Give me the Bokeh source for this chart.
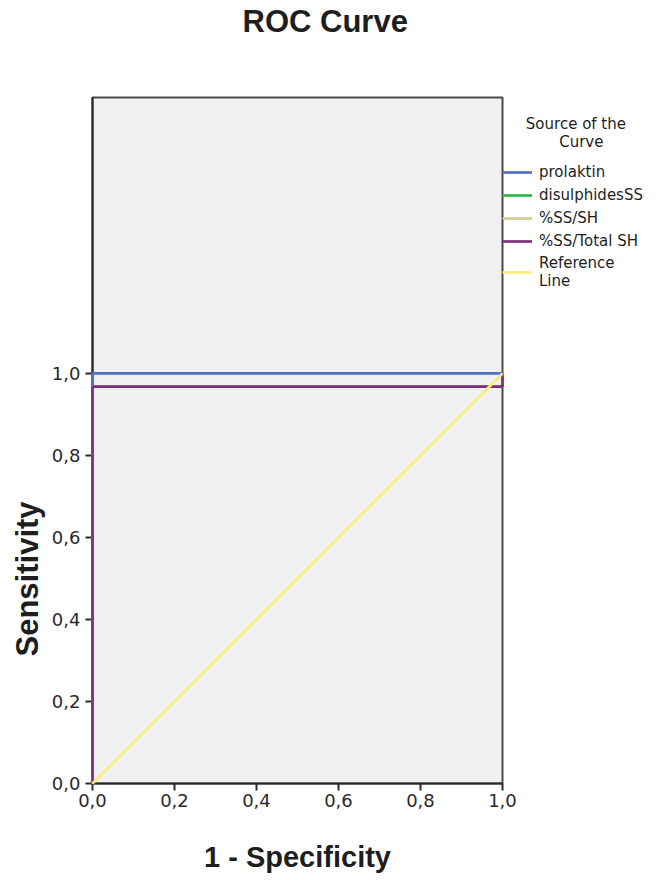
from bokeh.plotting import figure
from bokeh.models import Range1d, Legend, LegendItem, FixedTicker, Title
from bokeh.embed import file_html
from bokeh.resources import INLINE

# Data (ROC curves)
prolaktin_fpr = [0.0, 0.0, 1.0]
prolaktin_tpr = [0.0, 1.0, 1.0]
disulph_fpr = [0.0, 0.0, 1.0, 1.0]
disulph_tpr = [0.0, 0.968, 0.968, 1.0]
ss_sh_fpr = [0.0, 0.0, 1.0, 1.0]
ss_sh_tpr = [0.0, 0.968, 0.968, 1.0]
ss_tot_fpr = [0.0, 0.0, 1.0, 1.0]
ss_tot_tpr = [0.0, 0.968, 0.968, 1.0]
ref_x = [0.0, 1.0]
ref_y = [0.0, 1.0]
ticks = [0.0, 0.2, 0.4, 0.6, 0.8, 1.0]
tick_labels = ["0,0", "0,2", "0,4", "0,6", "0,8", "1,0"]

BOLD = "Liberation Sans"
REG = "DejaVu Sans"
INK = "#1e1e1e"
NB = "\u00a0"

p = figure(frame_width=410, frame_height=686, output_backend="svg", toolbar_location=None,
           x_range=Range1d(0, 1), y_range=Range1d(0, 1.673),
           min_border_left=92, min_border_right=159, min_border_top=97, min_border_bottom=97)
p.xgrid.visible = False
p.ygrid.visible = False
p.background_fill_color = "#F0F0F0"
p.border_fill_color = "white"
p.outline_line_color = "#4a4a4a"
p.outline_line_width = 2

p.title.text = "ROC Curve"
p.title.align = "left"
p.title.vertical_align = "top"
p.title.offset = 150
p.title.standoff = 6
p.title.text_font = BOLD
p.title.text_font_size = "31px"
p.title.text_font_style = "bold"
p.title.text_color = INK

# empty spacer between the frame and the title
spacer = Title(text=NB, text_font_size="2px", standoff=50, text_color="white")
p.add_layout(spacer, "above")

for ax in (p.xaxis[0], p.yaxis[0]):
    ax.ticker = FixedTicker(ticks=ticks)
    ax.major_label_overrides = {t: l for t, l in zip(ticks, tick_labels)}
    ax.major_tick_in = 0
    ax.major_tick_out = 7
    ax.minor_tick_line_color = None
    ax.axis_line_color = "#2a2a2a"
    ax.axis_line_width = 2
    ax.major_tick_line_color = "#2a2a2a"
    ax.major_tick_line_width = 2
    ax.major_label_text_font = REG
    ax.major_label_text_font_size = "18px"
    ax.major_label_text_color = "#2a2a2a"
    ax.axis_label_text_font = BOLD
    ax.axis_label_text_font_style = "bold"
    ax.axis_label_text_color = INK
p.yaxis[0].major_label_standoff = 5
p.xaxis[0].major_label_standoff = 3
p.xaxis[0].axis_label = "1 - Specificity"
p.xaxis[0].axis_label_text_font_size = "29px"
p.xaxis[0].axis_label_standoff = 31

ylab = Title(text="Sensitivity", align="left", offset=127, standoff=8,
             text_font=BOLD, text_font_size="31px", text_font_style="bold", text_color=INK)
p.add_layout(ylab, "left")

r1 = p.line(prolaktin_fpr, prolaktin_tpr, line_color="#5470C6", line_width=2.7, level="overlay")
r2 = p.line(disulph_fpr, disulph_tpr, line_color="#2EB848", line_width=2.7, level="overlay")
r3 = p.line(ss_sh_fpr, ss_sh_tpr, line_color="#D3CE97", line_width=2.7, level="overlay")
r4 = p.line(ss_tot_fpr, ss_tot_tpr, line_color="#7C2F7E", line_width=2.7, level="overlay")
r5 = p.line(ref_x, ref_y, line_color="#F6EE78", line_width=2.7, level="overlay")

legend_title = NB + "\n" + NB * 5 + "Source of the\n" + NB * 12 + "Curve"
legend = Legend(items=[
    LegendItem(label="prolaktin", renderers=[r1]),
    LegendItem(label="disulphidesSS", renderers=[r2]),
    LegendItem(label="%SS/SH", renderers=[r3]),
    LegendItem(label="%SS/Total SH", renderers=[r4]),
    LegendItem(label="Reference\nLine", renderers=[r5]),
], location="top_left", background_fill_alpha=0, border_line_color=None,
   title=legend_title, title_text_font=REG, title_text_font_size="15px",
   title_text_font_style="normal", title_text_color=INK,
   title_standoff=11,
   label_text_font=REG, label_text_font_size="15px", label_text_color=INK,
   glyph_width=30, glyph_height=20, label_height=20,
   label_standoff=7, spacing=3, padding=1, margin=0)
p.add_layout(legend, "right")

open("out.html", "w").write(file_html(p, INLINE))
